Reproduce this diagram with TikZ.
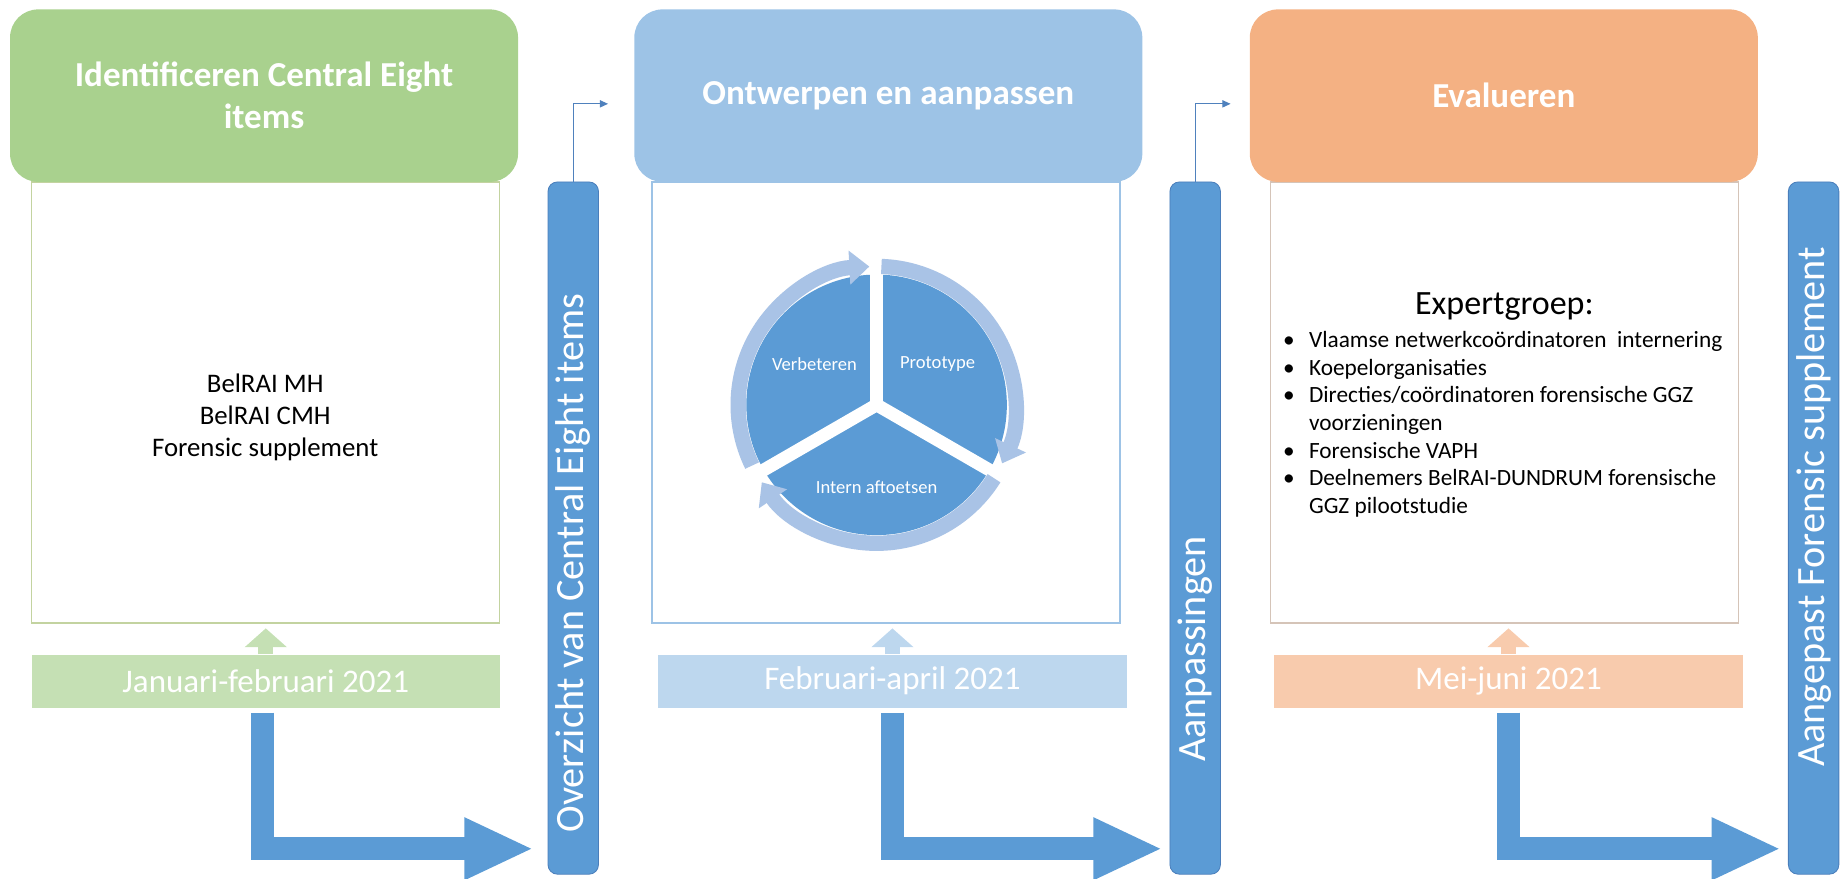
\documentclass[tikz,border=0pt]{standalone}
\usepackage{fontspec}
\setmainfont{Carlito}
\usetikzlibrary{arrows.meta}

\definecolor{grnhead}{HTML}{A9D18E}
\definecolor{grnband}{HTML}{C5E0B4}
\definecolor{grnline}{HTML}{C3D3A0}
\definecolor{bluhead}{HTML}{9DC3E6}
\definecolor{bluband}{HTML}{BDD7EE}
\definecolor{orghead}{HTML}{F4B183}
\definecolor{orgband}{HTML}{F8CBAD}
\definecolor{orgline}{HTML}{D5C4B8}
\definecolor{barblue}{HTML}{5B9BD5}
\definecolor{baredge}{HTML}{4A7EBB}
\definecolor{ringblue}{HTML}{A9C3E6}
\definecolor{linkblue}{HTML}{4F81BD}

\begin{document}
\begin{tikzpicture}[x=0.02cm, y=-0.02cm]
        \tikzset{
            header/.style={rounded corners=0.48cm, minimum width=8.66cm, minimum height=2.94cm, inner sep=0pt, align=center, text=white, font=\fontsize{17}{20.5}\selectfont\bfseries},
            body/.style={draw, line width=0.6pt, fill=white, minimum width=7.98cm, minimum height=7.52cm, inner sep=0pt},
            band/.style={minimum width=7.98cm, minimum height=0.9cm, inner sep=0pt, text=white, font=\fontsize{16}{19}\selectfont},
            bar/.style={draw=baredge, fill=barblue, rounded corners=0.16cm, minimum width=0.86cm, minimum height=11.8cm, inner sep=0pt},
            bartext/.style={rotate=90, inner sep=0pt, text=white, font=\fontsize{19.5}{22}\selectfont},
            uparrow/.style={line width=0.25cm, -{Triangle[length=0.32cm,width=0.7cm]}, shorten >=0.08cm},
            bent/.style={draw=barblue, line width=0.4cm, -{Triangle[length=1.18cm,width=0.98cm]}},
            link/.style={draw=linkblue, line width=0.6pt, -{Triangle[length=4pt,width=3.5pt]}},
            ring/.style={draw=ringblue, line width=0.26cm, -{Triangle[length=0.34cm,width=0.56cm]}},
            pielabel/.style={text=white, font=\fontsize{9}{11}\selectfont}
        }
        \useasboundingbox (0,0) rectangle (1568,749);

        % column 1
        \node[body, draw=grnline] (body1) at (226,343) {};
        \node[header, fill=grnhead] (head1) at (225,81.5) {Identificeren Central Eight\\items};
        \node[align=center, font=\fontsize{13}{15.5}\selectfont] (src) at (226,356) {BelRAI MH\\BelRAI CMH\\Forensic supplement};
        \node[band, fill=grnband] (band1) at (226.5,580.5) {Januari-februari 2021};
        \node[bar] (bar1) at (488.5,450) {};
        \node[bartext] (lbl1) at (488.5,480) {Overzicht van Central Eight items};

        % column 2
        \node[body, draw=bluhead] (body2) at (755,343) {};
        \node[header, fill=bluhead] (head2) at (757,81.5) {Ontwerpen en aanpassen};
        \node[band, fill=bluband] (band2) at (760.5,580.5) {Februari-april 2021};
        \node[bar] (bar2) at (1018.5,450) {};
        \node[bartext] (lbl2) at (1018.5,553) {Aanpassingen};

        % cycle
        \begin{scope}[shift={(747,345)}, x=0.02cm, y=0.02cm]
            \coordinate (cyc) at (0,0);
            \fill[barblue] (cyc) circle (111);
            \foreach \a in {90,210,330}
                \draw[white, line width=0.22cm] (cyc) -- (\a:114);
            \draw[ring] (206:118) arc (206:93:118);
            \draw[ring] (88:118) arc (88:-25:118);
            \draw[ring] (-32:118) arc (-32:-146:118);
            \node[pielabel] (verb) at (-53,35) {Verbeteren};
            \node[pielabel] (proto) at (52,35) {Prototype};
            \node[pielabel] (intern) at (0,-70) {Intern aftoetsen};
        \end{scope}

        % column 3
        \node[body, draw=orgline] (body3) at (1282,343) {};
        \node[header, fill=orghead] (head3) at (1281.5,81.5) {Evalueren};
        \node[anchor=base, inner sep=0pt, font=\fontsize{16.5}{19}\selectfont] (expt) at (1282,268) {Expertgroep:};
        \node[anchor=base west, inner sep=0pt, font=\fontsize{11.3}{13.43}\selectfont] (members) at (1093,296) {%
            \begin{tabular}[t]{@{}l@{\hspace{7pt}}l@{}}
            \textbullet & Vlaamse netwerkcoördinatoren\ \ internering\\
            \textbullet & Koepelorganisaties\\
            \textbullet & Directies/coördinatoren\ forensische GGZ\\
                        & voorzieningen\\
            \textbullet & Forensische VAPH\\
            \textbullet & Deelnemers BelRAI-DUNDRUM forensische\\
                        & GGZ pilootstudie
            \end{tabular}};
        \node[band, fill=orgband] (band3) at (1285.5,580.5) {Mei-juni 2021};
        \node[bar] (bar3) at (1545.5,450) {};
        \node[bartext] (lbl3) at (1545.5,432) {Aangepast Forensic supplement};

        % arrows
        \draw[uparrow, grnband] (band1.north) -- (band1.north |- body1.south);
        \draw[uparrow, bluband] (band2.north) -- (band2.north |- body2.south);
        \draw[uparrow, orgband] (band3.north) -- (band3.north |- body3.south);
        \draw[bent] ([shift={(-3,4)}]band1.south) |- ([shift={(-12,-22)}]bar1.south west);
        \draw[bent] ([shift={(0,4)}]band2.south) |- ([shift={(-6,-22)}]bar2.south west);
        \draw[bent] ([shift={(0,4)}]band3.south) |- ([shift={(-6,-22)}]bar3.south west);
        \draw[link] (bar1.north) |- ([shift={(-22,7)}]head2.west);
        \draw[link] (bar2.north) |- ([shift={(-16,7)}]head3.west);
\end{tikzpicture}
\end{document}
